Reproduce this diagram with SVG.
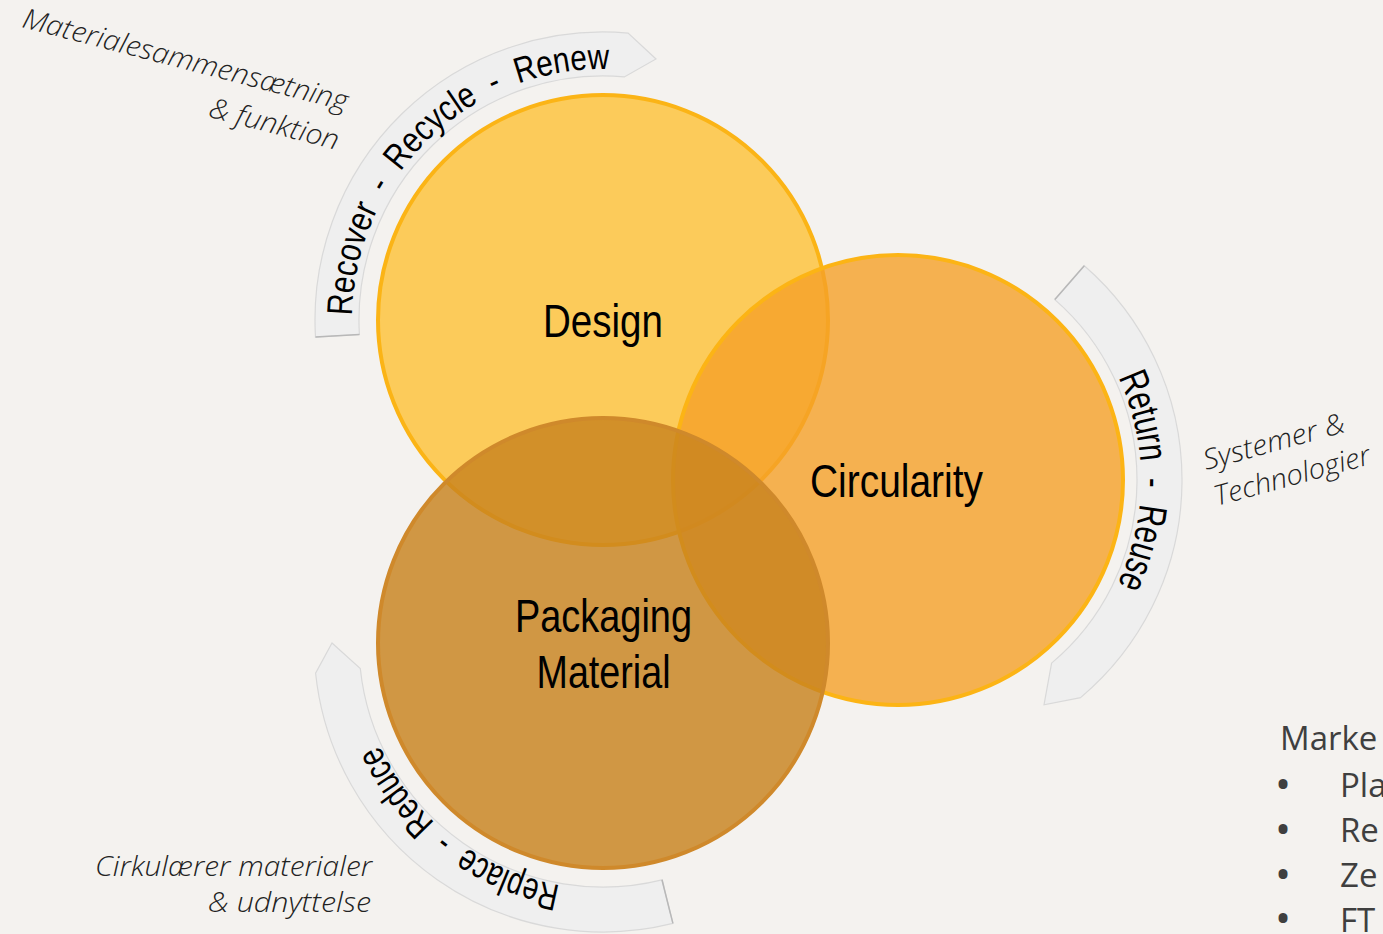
<svg xmlns="http://www.w3.org/2000/svg" xmlns:xlink="http://www.w3.org/1999/xlink" width="1383" height="934" viewBox="0 0 1383 934">
<style>
.band{fill:#EFEFEF;stroke:#D9D9D9;stroke-width:1.2}
.bandend{fill:none;stroke:#B8B8B8;stroke-width:1.5}
.arc{font-family:"Liberation Sans",Arial,sans-serif;fill:#000}
.core{font-family:"Liberation Sans Narrow","Liberation Sans",Arial,sans-serif;fill:#000;text-anchor:middle}
.note{font-family:"Open Sans","Noto Sans",sans-serif;font-style:italic;font-weight:300;fill:#222;font-size:28px}
.list{font-family:"Open Sans","Noto Sans",sans-serif;fill:#3F3F3F;font-size:33px}
.bullet{font-family:"Open Sans","Noto Sans",sans-serif;fill:#3F3F3F;font-size:32px;font-weight:700}
</style>
<defs>
<path id="tp1" d="M352.0,315.6 A251,251 0 0 1 609.6,69.1"/>
<path id="tp2" d="M1118.2,377.3 A243,243 0 0 1 1117.3,584.6"/>
<path id="tp3" d="M560.3,885.3 A246,246 0 0 1 379.2,745.0"/>
</defs>
<rect x="0" y="0" width="1383" height="934" fill="#F4F2EF"/>

<g id="connectors">
<g id="arc-top">
<path class="band" d="M315.5,337.1 A288,288 0 0 1 628.1,33.1 L656,59 L624.3,76.9 A244,244 0 0 0 359.4,334.5 Z"/>
<path class="bandend" d="M315.5,337.1 L359.4,334.5"/>
<text class="arc" font-size="36"><textPath xlink:href="#tp1" href="#tp1" textLength="396" lengthAdjust="spacingAndGlyphs">Recover&#160;&#160;-&#160;&#160;Recycle&#160;&#160;-&#160;&#160;Renew</textPath></text>
</g>
<g id="arc-right">
<path class="band" d="M1084.3,265.7 A284,284 0 0 1 1080.6,697.6 L1044,704.8 L1051.6,663.1 A239,239 0 0 0 1054.8,299.6 Z"/>
<path class="bandend" d="M1084.3,265.7 L1054.8,299.6"/>
<text class="arc" font-size="40"><textPath xlink:href="#tp2" href="#tp2" textLength="214" lengthAdjust="spacingAndGlyphs">Return&#160;&#160;-&#160;&#160;Reuse</textPath></text>
</g>
<g id="arc-bottom">
<path class="band" d="M672.9,923.4 A289,289 0 0 1 315.6,673.2 L332,643 L360.3,668.5 A244,244 0 0 0 662.0,879.8 Z"/>
<path class="bandend" d="M672.9,923.4 L662.0,879.8"/>
<text class="arc" font-size="38"><textPath xlink:href="#tp3" href="#tp3" textLength="238" lengthAdjust="spacingAndGlyphs">Replace&#160;&#160;-&#160;&#160;Reduce</textPath></text>
</g>
</g>

<g id="node-design">
<circle cx="603" cy="320" r="225" fill="rgb(255,190,40)" fill-opacity="0.75" stroke="#FBB416" stroke-width="4"/>
</g>
<g id="node-circularity">
<circle cx="898" cy="480" r="225" fill="rgb(245,160,40)" fill-opacity="0.8" stroke="#FCB415" stroke-width="4"/>
</g>
<g id="node-packaging">
<circle cx="603" cy="643" r="225" fill="rgb(200,130,30)" fill-opacity="0.82" stroke="#CF892B" stroke-width="4"/>
</g>
<g id="labels">
<text class="core" x="603" y="337" font-size="46" textLength="120" lengthAdjust="spacingAndGlyphs">Design</text>
<text class="core" x="896.5" y="497" font-size="47" textLength="173" lengthAdjust="spacingAndGlyphs">Circularity</text>
<text class="core" x="603.5" y="632" font-size="46" textLength="177" lengthAdjust="spacingAndGlyphs">Packaging</text>
<text class="core" x="603.5" y="688" font-size="46" textLength="134" lengthAdjust="spacingAndGlyphs">Material</text>
</g>

<g id="note-top" transform="translate(21,27) rotate(14.5)">
<text class="note" x="0" y="0" textLength="335" lengthAdjust="spacingAndGlyphs">Materialesammensætning</text>
<text class="note" x="203" y="40" textLength="133" lengthAdjust="spacingAndGlyphs">&amp; funktion</text>
</g>
<g id="note-right" transform="translate(1206,470) rotate(-15.2)">
<text class="note" x="0" y="0" textLength="146" lengthAdjust="spacingAndGlyphs">Systemer &amp;</text>
<text class="note" x="1" y="37.5" textLength="161" lengthAdjust="spacingAndGlyphs">Technologier</text>
</g>
<g id="note-bottom">
<text class="note" x="95" y="876" textLength="277" lengthAdjust="spacingAndGlyphs">Cirkulærer materialer</text>
<text class="note" x="208" y="912" textLength="163" lengthAdjust="spacingAndGlyphs">&amp; udnyttelse</text>
</g>
<g id="list">
<text class="list" x="1280" y="750">Marke</text>
<text class="bullet" x="1277" y="796">•</text>
<text class="list" x="1340" y="797">Pla</text>
<text class="bullet" x="1277" y="841">•</text>
<text class="list" x="1340" y="842">Re</text>
<text class="bullet" x="1277" y="886">•</text>
<text class="list" x="1340" y="887">Ze</text>
<text class="bullet" x="1277" y="930">•</text>
<text class="list" x="1340" y="932">FT</text>
</g>
</svg>
